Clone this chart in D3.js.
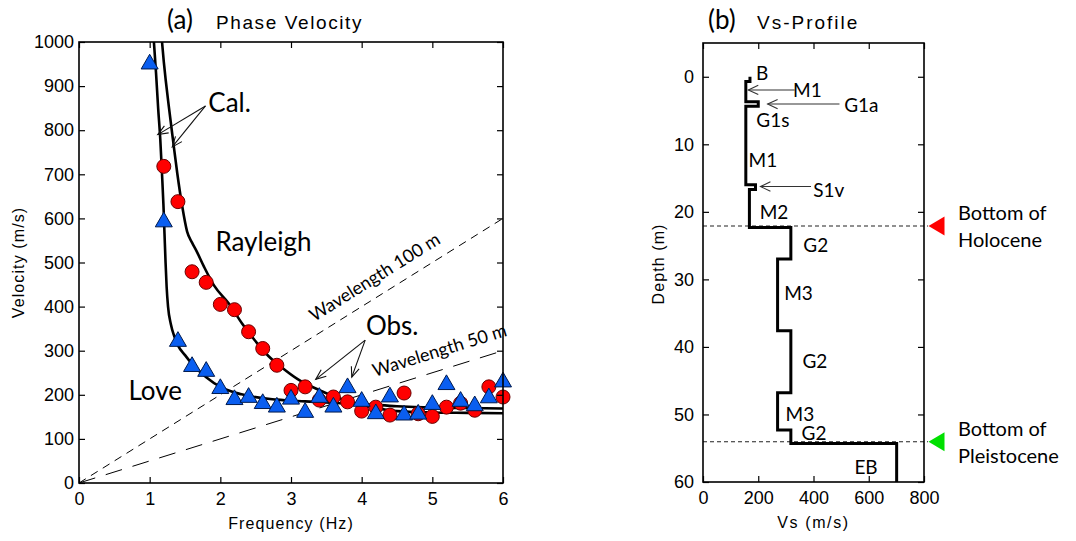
<!DOCTYPE html>
<html>
<head>
<meta charset="utf-8">
<script src="https://cdn.jsdelivr.net/npm/d3@7"></script>
<style>
  html, body { margin: 0; padding: 0; background: #fff; }
  svg { display: block; }
</style>
</head>
<body>
<svg id="chart" width="1076" height="541"></svg>
<script>
// ---------------- DATA ----------------
// (a) Phase velocity — observed
const rayleighObsFreq = [1.2,1.4,1.6,1.8,2.0,2.2,2.4,2.6,2.8,3.0,3.2,3.4,3.6,3.8,4.0,4.2,4.4,4.6,4.8,5.0,5.2,5.4,5.6,5.8,6.0];
const rayleighObsVel  = [718,638,479,455,405,393,343,305,267,210,218,188,195,184,163,172,154,204,157,151,172,181,165,218,195];
const loveObsFreq = [1.0,1.2,1.4,1.6,1.8,2.0,2.2,2.4,2.6,2.8,3.0,3.2,3.4,3.6,3.8,4.0,4.2,4.4,4.6,4.8,5.0,5.2,5.4,5.6,5.8,6.0];
const loveObsVel  = [950,592,321,264,253,214,189,194,180,172,190,160,194,172,216,185,157,195,154,156,178,223,185,175,193,229];

// (a) Phase velocity — calculated
const rayleighCalFreq = [1.175,1.2,1.226,1.27,1.33,1.39,1.46,1.53,1.6,1.66,1.77,1.91,2.12,2.31,2.49,2.68,2.87,3.1,3.38,3.6,3.8,4.0,4.2,4.5,5.0,5.5,6.0];
const rayleighCalVel  = [1000,955,915,855,778,703,628,570,545,527,490,448,407,361,323,288,262,235,212,197,186,177,170,163,160,159,158];
const loveCalFreq = [1.06,1.09,1.12,1.15,1.175,1.195,1.21,1.225,1.24,1.26,1.3,1.35,1.4,1.5,1.6,1.7,1.8,2.0,2.3,2.8,3.2,3.7,4.0,4.5,5.0,5.5,6.0];
const loveCalVel  = [1000,930,850,780,700,630,565,500,445,400,360,332,312,290,270,254,240,218,201,189,185,181,179,174,171,170,169];

// reference wavelength lines (m)
const wavelengths = [100, 50];
const wavelengthLabels = ["Wavelength 100 m", "Wavelength 50 m"];

// axis ticks
const freqTicks = [0,1,2,3,4,5,6];
const velTicks = [0,100,200,300,400,500,600,700,800,900,1000];
const vsTicks = [0,200,400,600,800];
const depthTicks = [0,10,20,30,40,50,60];

// (b) Vs profile
const layerNames = ["B","M1","G1a","M1","S1v","M2","G2","M3","G2","M3","G2","EB"];
const layerTop   = [0, 0.7, 3.7, 4.35, 16.0, 16.7, 22.3, 27.0, 37.6, 46.8, 52.3, 54.3];
const layerVs    = [170, 155, 200, 155, 190, 168, 318, 270, 318, 270, 318, 701];
const profileBottom = 60;
const holoceneBottom = 22.1;
const pleistoceneBottom = 54.05;

// ---------------- CHART ----------------
const svg = d3.select("#chart");
const TICKFONT = "'Liberation Sans', Arial, sans-serif";
const ANNFONT = "Lato, 'Open Sans', sans-serif";

svg.append("rect").attr("width", 1076).attr("height", 541).attr("fill", "#fff");

function drawAxes(g, x, y, xT, yT, padX, padY) {
  const x0 = Math.min(...x.range()), x1 = Math.max(...x.range());
  const yBot = Math.max(...y.range()), yTop = Math.min(...y.range());
  const style = sel => {
    sel.select(".domain").remove();
    sel.selectAll(".tick line").attr("stroke", "#000").attr("stroke-width", 1.2);
    sel.selectAll(".tick text").attr("font-family", TICKFONT).attr("font-size", 18).attr("fill", "#000");
  };
  g.append("g").attr("transform", `translate(0,${yBot})`)
    .call(d3.axisBottom(x).tickValues(xT).tickFormat(d3.format("d")).tickSizeInner(-6).tickSizeOuter(0).tickPadding(padX)).call(style);
  g.append("g").attr("transform", `translate(0,${yTop})`)
    .call(d3.axisTop(x).tickValues(xT).tickFormat("").tickSizeInner(-6).tickSizeOuter(0)).call(style);
  g.append("g").attr("transform", `translate(${x0},0)`)
    .call(d3.axisLeft(y).tickValues(yT).tickFormat(d3.format("d")).tickSizeInner(-6).tickSizeOuter(0).tickPadding(padY)).call(style);
  g.append("g").attr("transform", `translate(${x1},0)`)
    .call(d3.axisRight(y).tickValues(yT).tickFormat("").tickSizeInner(-6).tickSizeOuter(0)).call(style);
  g.append("rect").attr("x", x0).attr("y", yTop).attr("width", x1 - x0).attr("height", yBot - yTop)
    .attr("fill", "none").attr("stroke", "#000").attr("stroke-width", 1.6);
}

function arrow(g, x1, y1, x2, y2, opts = {}) {
  const len = opts.len || 11, half = opts.half || 22, color = opts.color || "#111", w = opts.w || 1.1;
  g.append("line").attr("x1", x1).attr("y1", y1).attr("x2", x2).attr("y2", y2)
    .attr("stroke", color).attr("stroke-width", w);
  const a = Math.atan2(y2 - y1, x2 - x1);
  const r = half * Math.PI / 180;
  const p1 = [x2 - len * Math.cos(a - r), y2 - len * Math.sin(a - r)];
  const p2 = [x2 - len * Math.cos(a + r), y2 - len * Math.sin(a + r)];
  g.append("path").attr("d", `M${p1[0]},${p1[1]}L${x2},${y2}L${p2[0]},${p2[1]}`)
    .attr("fill", "none").attr("stroke", color).attr("stroke-width", w);
}

// ===== Panel (a) =====
const xA = d3.scaleLinear().domain([0, 6]).range([79, 503]);
const yA = d3.scaleLinear().domain([0, 1000]).range([483, 42]);
const gA = svg.append("g");

svg.append("defs").append("clipPath").attr("id", "clipA")
  .append("rect").attr("x", xA(0)).attr("y", yA(1000)).attr("width", xA(6) - xA(0)).attr("height", yA(0) - yA(1000));

const plotA = gA.append("g").attr("clip-path", "url(#clipA)");

// wavelength reference lines
const dashes = ["8,6", "17,11"];
wavelengths.forEach((lam, i) => {
  const pts = [0, 6].map(f => [f, lam * f]);
  plotA.append("path")
    .attr("d", d3.line().x(d => xA(d[0])).y(d => yA(d[1]))(pts))
    .attr("fill", "none").attr("stroke", "#000").attr("stroke-width", 1).attr("stroke-dasharray", dashes[i]);
});

// calculated curves
const lineA = d3.line().x(d => xA(d[0])).y(d => yA(d[1])).curve(d3.curveMonotoneX);
plotA.append("path").attr("d", lineA(loveCalFreq.map((f, i) => [f, loveCalVel[i]])))
  .attr("fill", "none").attr("stroke", "#000").attr("stroke-width", 2.6);
plotA.append("path").attr("d", lineA(rayleighCalFreq.map((f, i) => [f, rayleighCalVel[i]])))
  .attr("fill", "none").attr("stroke", "#000").attr("stroke-width", 2.6);

// observed markers
gA.append("g").selectAll("circle").data(rayleighObsFreq.map((f, i) => [f, rayleighObsVel[i]]))
  .join("circle").attr("cx", d => xA(d[0])).attr("cy", d => yA(d[1])).attr("r", 7)
  .attr("fill", "#ff0000").attr("stroke", "#6a0000").attr("stroke-width", 1);
const tri = d3.symbol().type(d3.symbolTriangle).size(125);
gA.append("g").selectAll("path").data(loveObsFreq.map((f, i) => [f, loveObsVel[i]]))
  .join("path").attr("d", tri).attr("transform", d => `translate(${xA(d[0])},${yA(d[1])})`)
  .attr("fill", "#0a5ef0").attr("stroke", "#001a4d").attr("stroke-width", 1);

drawAxes(gA, xA, yA, freqTicks, velTicks, 9, 5);

// wavelength labels (along lines)
const wlAnchor = [3.42, 4.24];
const wlOffset = [12, 13];
wavelengths.forEach((lam, i) => {
  const f0 = wlAnchor[i];
  const ang = Math.atan2(yA(0) - yA(lam), xA(1) - xA(0)) * 180 / Math.PI;
  gA.append("text")
    .attr("transform", `translate(${xA(f0)},${yA(lam * f0)}) rotate(${-ang})`)
    .attr("y", -wlOffset[i])
    .attr("font-family", ANNFONT).attr("font-size", 18).attr("fill", "#000")
    .text(wavelengthLabels[i]);
});

// annotations (a)
const annA = [
  { t: "Cal.", f: 1.83, v: 842 },
  { t: "Rayleigh", f: 1.93, v: 526 },
  { t: "Love", f: 0.70, v: 188 },
  { t: "Obs.", f: 4.06, v: 335 }
];
annA.forEach(a => gA.append("text").attr("x", xA(a.f)).attr("y", yA(a.v))
  .attr("font-family", ANNFONT).attr("font-size", 26).attr("fill", "#000").text(a.t));

arrow(gA, xA(1.79), yA(855), xA(1.115), yA(790));
arrow(gA, xA(1.79), yA(855), xA(1.32), yA(762));
arrow(gA, xA(4.05), yA(324), xA(3.35), yA(235));
arrow(gA, xA(4.05), yA(324), xA(3.86), yA(240));

// titles / axis labels (a)
gA.append("text").attr("x", 167).attr("y", 29).attr("font-family", ANNFONT).attr("font-size", 26).text("(a)");
gA.append("text").attr("x", 216).attr("y", 29).attr("font-family", TICKFONT).attr("font-size", 19)
  .attr("letter-spacing", 1.6).text("Phase Velocity");
gA.append("text").attr("x", xA(3)).attr("y", 529).attr("text-anchor", "middle")
  .attr("font-family", TICKFONT).attr("font-size", 16).attr("letter-spacing", 1.1).text("Frequency (Hz)");
gA.append("text").attr("transform", `translate(24,${(yA(0) + yA(1000)) / 2}) rotate(-90)`)
  .attr("text-anchor", "middle").attr("font-family", TICKFONT).attr("font-size", 16).attr("letter-spacing", 1.1)
  .text("Velocity (m/s)");

// ===== Panel (b) =====
const xB = d3.scaleLinear().domain([0, 800]).range([703, 924]);
const yB = d3.scaleLinear().domain([-5, 60]).range([43, 482]);
const gB = svg.append("g");

// boundary dashed lines
[holoceneBottom, pleistoceneBottom].forEach(dp => {
  gB.append("line").attr("x1", xB(0)).attr("x2", xB(800) + 4).attr("y1", yB(dp)).attr("y2", yB(dp))
    .attr("stroke", "#222").attr("stroke-width", 1.1).attr("stroke-dasharray", "4,3");
});

// step profile
const profPts = [];
layerVs.forEach((vs, i) => {
  const top = layerTop[i];
  const bot = i < layerTop.length - 1 ? layerTop[i + 1] : profileBottom;
  profPts.push([vs, top], [vs, bot]);
});
gB.append("path").attr("d", d3.line().x(d => xB(d[0])).y(d => yB(d[1]))(profPts))
  .attr("fill", "none").attr("stroke", "#000").attr("stroke-width", 3).attr("stroke-linejoin", "miter");

drawAxes(gB, xB, yB, vsTicks, depthTicks, 9, 9);

// layer labels
const labelAnchors = [
  [192, 0.5], [326, 3.05], [511, 5.2], [193, 7.4], [165, 13.3], [399, 17.8],
  [205, 21.05], [363, 25.9], [294, 33.1], [360, 43.05], [299, 50.9], [357, 53.8], [548, 58.75]
];
const labelTexts = ["B", "M1", "G1a", "G1s", "M1", "S1v", "M2", "G2", "M3", "G2", "M3", "G2", "EB"];
labelTexts.forEach((t, i) => gB.append("text").attr("x", xB(labelAnchors[i][0])).attr("y", yB(labelAnchors[i][1]))
  .attr("font-family", ANNFONT).attr("font-size", 19).attr("fill", "#000").text(t));

// layer arrows
arrow(gB, xB(332), yB(1.95), xB(164), yB(1.95), { len: 11, half: 25, color: "#333" });
arrow(gB, xB(494), yB(4.04), xB(234), yB(4.04), { len: 11, half: 25, color: "#333" });
arrow(gB, xB(391), yB(16.25), xB(208), yB(16.25), { len: 11, half: 25, color: "#333" });

// boundary markers
const triMark = (dp, color) => {
  const tx = xB(800) + 4.5, ty = yB(dp);
  gB.append("path").attr("d", `M${tx},${ty}L${tx + 16},${ty - 9.5}L${tx + 16},${ty + 9.5}Z`).attr("fill", color);
};
triMark(holoceneBottom, "#ff0000");
triMark(pleistoceneBottom, "#00e000");
const bLabels = [
  ["Bottom of", "Holocene", holoceneBottom],
  ["Bottom of", "Pleistocene", pleistoceneBottom]
];
bLabels.forEach(([l1, l2, dp]) => {
  gB.append("text").attr("x", 958).attr("y", yB(dp) - 6).attr("font-family", ANNFONT).attr("font-size", 20).text(l1);
  gB.append("text").attr("x", 958).attr("y", yB(dp) + 21).attr("font-family", ANNFONT).attr("font-size", 20).text(l2);
});

// titles / axis labels (b)
gB.append("text").attr("x", 708).attr("y", 29).attr("font-family", ANNFONT).attr("font-size", 26).text("(b)");
gB.append("text").attr("x", 757).attr("y", 29).attr("font-family", TICKFONT).attr("font-size", 19)
  .attr("letter-spacing", 2).text("Vs-Profile");
gB.append("text").attr("x", xB(400)).attr("y", 528).attr("text-anchor", "middle")
  .attr("font-family", TICKFONT).attr("font-size", 16).attr("letter-spacing", 1.6).text("Vs (m/s)");
gB.append("text").attr("transform", `translate(664,264) rotate(-90)`)
  .attr("text-anchor", "middle").attr("font-family", TICKFONT).attr("font-size", 16).attr("letter-spacing", 1.1)
  .text("Depth (m)");
</script>
</body>
</html>
